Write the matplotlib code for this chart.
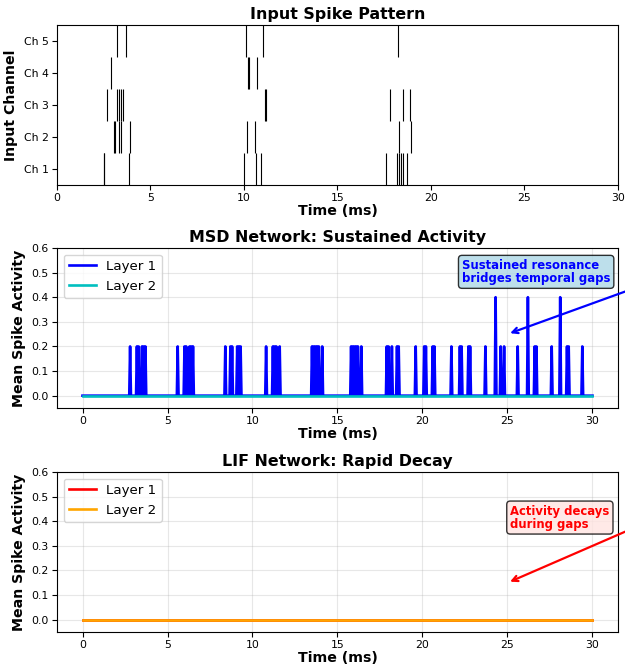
import numpy as np
import matplotlib
matplotlib.use('Agg')
import matplotlib.pyplot as plt

# input spike times per channel (ms), Ch 1 .. Ch 5
channel_labels = ['Ch 1', 'Ch 2', 'Ch 3', 'Ch 4', 'Ch 5']
input_spikes = [
	[2.50, 2.53, 3.85, 9.98, 10.62, 10.93, 17.58, 18.18, 18.27, 18.41, 18.49, 18.73],
	[3.07, 3.12, 3.30, 3.41, 3.90, 10.14, 10.57, 18.29, 18.95],
	[2.70, 3.22, 3.32, 3.42, 3.52, 11.14, 11.18, 17.81, 18.52, 18.88],
	[2.87, 10.21, 10.26, 10.71],
	[3.19, 3.69, 10.09, 11.03, 18.22],
]

# network activity, sampled every 0.05 ms
dt = 0.05
t_end = 30.0
msd_l1_spikes_02 = [2.8, 3.2, 3.3, 3.5, 3.6, 3.7, 5.6, 6.0, 6.1, 6.3, 6.4, 6.5,
	8.4, 8.7, 8.8, 9.1, 9.2, 9.3, 10.8, 11.2, 11.3, 11.4, 11.6,
	13.5, 13.6, 13.7, 13.8, 13.9, 14.1, 15.8, 15.9, 16.0, 16.1, 16.2, 16.4,
	17.9, 18.0, 18.2, 18.5, 18.6, 19.6, 20.1, 20.2, 20.6, 20.7, 21.7,
	22.2, 22.3, 22.7, 22.8, 23.7, 24.6, 24.8, 25.6, 26.6, 26.7, 27.6,
	28.5, 28.6, 29.4]
msd_l1_spikes_04 = [24.3, 26.2, 28.1]
msd_l2_spikes = []
lif_l1_spikes = []
lif_l2_spikes = []

time = np.round(np.arange(0, t_end + dt / 2, dt), 2)


def activity(times, level):
	a = np.zeros(len(time))
	idx = np.round(np.array(times, dtype=float) / dt).astype(int)
	a[idx] = level
	return a


msd_l1 = activity(msd_l1_spikes_02, 0.2) + activity(msd_l1_spikes_04, 0.4)
msd_l2 = activity(msd_l2_spikes, 0.2)
lif_l1 = activity(lif_l1_spikes, 0.2)
lif_l2 = activity(lif_l2_spikes, 0.2)

title_fs = 11.4
label_fs = 10.2
tick_fs = 7.8
legend_fs = 9.6
line_w = 1.9

fig = plt.figure(figsize=(6.25, 6.65), dpi=100)
ax1 = fig.add_axes([0.0912, 0.7218, 0.8976, 0.2406])
ax2 = fig.add_axes([0.0912, 0.3865, 0.8976, 0.2406])
ax3 = fig.add_axes([0.0912, 0.0496, 0.8976, 0.2406])

# raster
ax1.eventplot(input_spikes, colors='black', lineoffsets=range(len(input_spikes)),
	linelengths=1, linewidths=0.8)
ax1.set_xlim(0, 30)
ax1.set_ylim(-0.5, 4.5)
ax1.set_yticks(range(len(channel_labels)))
ax1.set_yticklabels(channel_labels)
ax1.set_ylabel('Input Channel', fontsize=label_fs, fontweight='bold')
ax1.set_title('Input Spike Pattern', fontsize=title_fs, fontweight='bold', pad=4)

# MSD
ax2.plot(time, msd_l1, color='b', lw=line_w, label='Layer 1')
ax2.plot(time, msd_l2, color='c', lw=line_w, label='Layer 2')
ax2.set_ylim(-0.05, 0.6)
ax2.set_ylabel('Mean Spike Activity', fontsize=label_fs, fontweight='bold')
ax2.set_title('MSD Network: Sustained Activity', fontsize=title_fs, fontweight='bold', pad=4)
ax2.legend(loc='upper left', fontsize=legend_fs)
ax2.grid(True, alpha=0.3)
ax2.text(31.05, 0.503, 'Sustained resonance\nbridges temporal gaps', ha='right', va='center',
	multialignment='left', fontsize=8.4, fontweight='bold', color='blue', linespacing=1.0,
	bbox=dict(boxstyle='round', facecolor='lightblue', alpha=0.8))
ax2.annotate('', xy=(25, 0.25), xytext=(35, 0.5),
	arrowprops=dict(arrowstyle='->', color='blue', lw=1.6))

# LIF
ax3.plot(time, lif_l1, color='r', lw=line_w, label='Layer 1')
ax3.plot(time, lif_l2, color='orange', lw=line_w, label='Layer 2')
ax3.set_ylim(-0.05, 0.6)
ax3.set_ylabel('Mean Spike Activity', fontsize=label_fs, fontweight='bold')
ax3.set_title('LIF Network: Rapid Decay', fontsize=title_fs, fontweight='bold', pad=4)
ax3.legend(loc='upper left', fontsize=legend_fs)
ax3.grid(True, alpha=0.3)
ax3.text(31.0, 0.415, 'Activity decays\nduring gaps', ha='right', va='center',
	multialignment='left', fontsize=8.4, fontweight='bold', color='red', linespacing=1.0,
	bbox=dict(boxstyle='round', facecolor='mistyrose', alpha=0.8))
ax3.annotate('', xy=(25, 0.15), xytext=(35, 0.45),
	arrowprops=dict(arrowstyle='->', color='red', lw=1.6))

for ax in (ax1, ax2, ax3):
	ax.set_xlabel('Time (ms)', fontsize=label_fs, fontweight='bold', labelpad=0.5)
	ax.tick_params(labelsize=tick_fs, pad=2.5)

fig.savefig('out.png', dpi=100)
